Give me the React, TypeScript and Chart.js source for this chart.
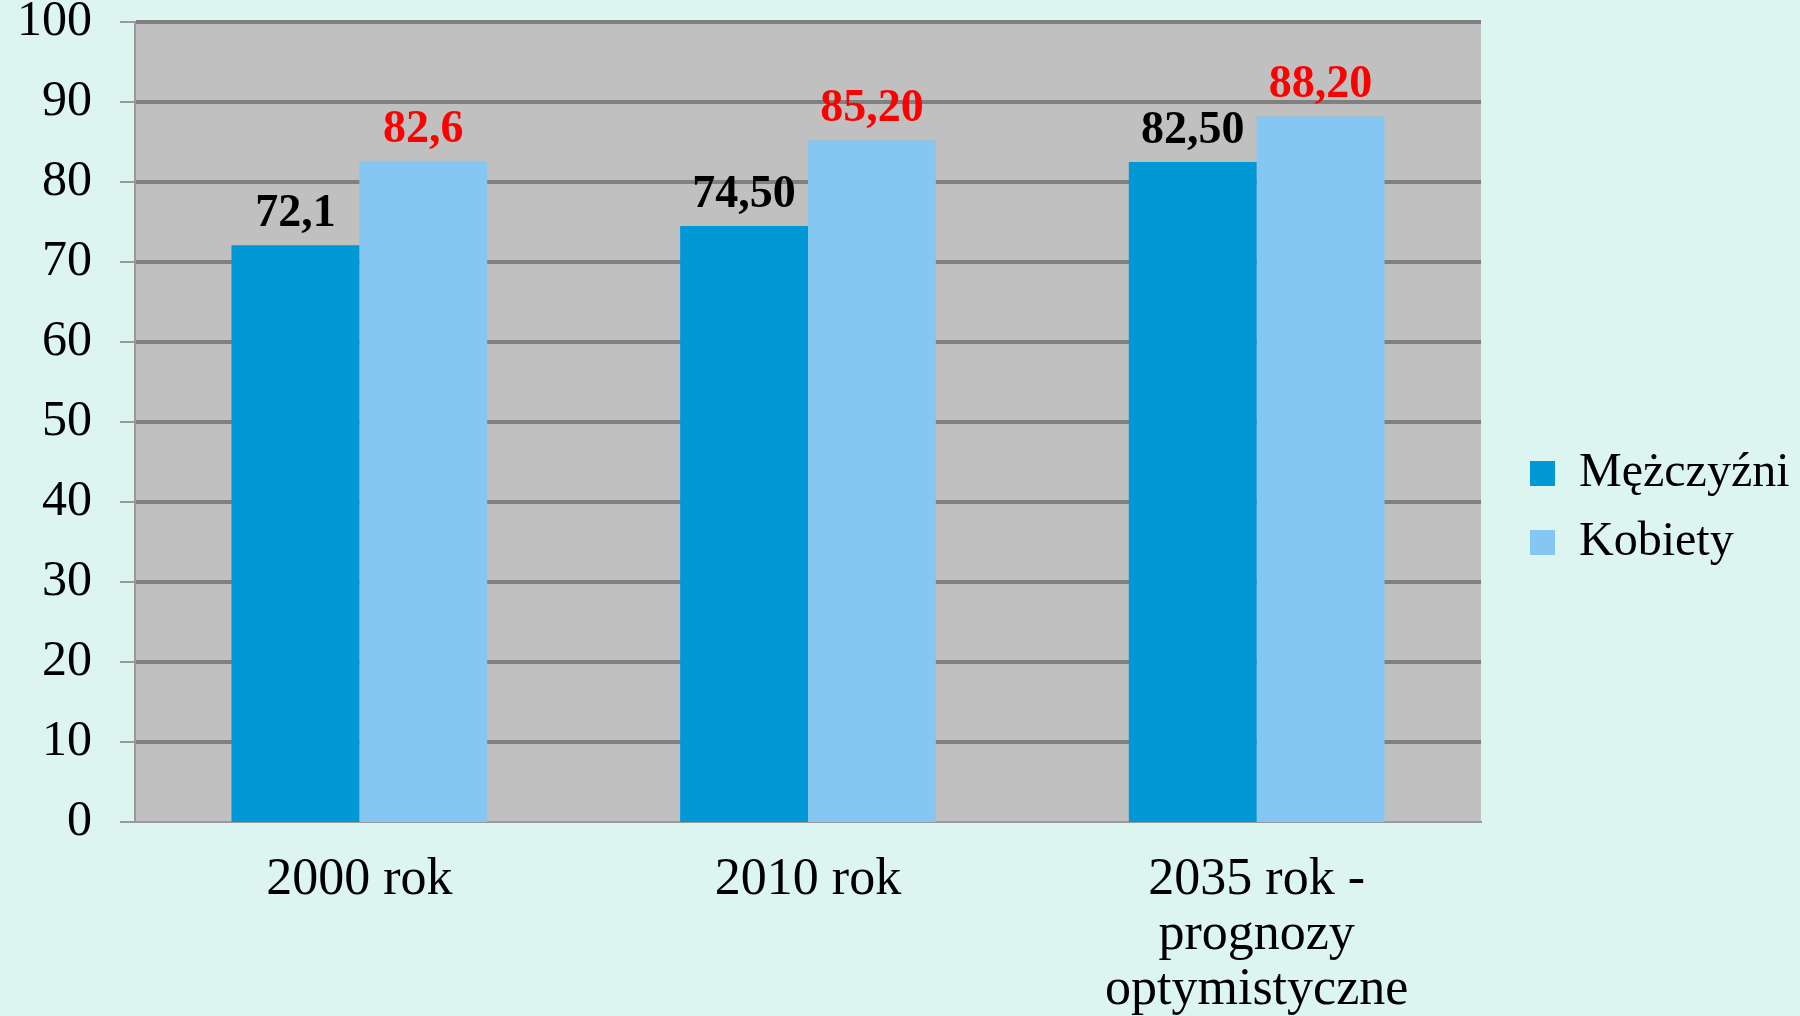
import React, { useEffect, useRef } from "react";
import { Chart, registerables } from "chart.js";

Chart.register(...registerables);

const categories: (string | string[])[] = [
  "2000 rok",
  "2010 rok",
  ["2035 rok -", "prognozy", "optymistyczne"],
];
const menValues = [72.1, 74.5, 82.5];
const womenValues = [82.6, 85.2, 88.2];
const menLabels = ["72,1", "74,50", "82,50"];
const womenLabels = ["82,6", "85,20", "88,20"];
const seriesNames = ["Mężczyźni", "Kobiety"];
const yTicks = { min: 0, max: 100, step: 10 };

const FONT = "'Liberation Serif', 'DejaVu Serif', serif";

export default function App() {
  const ref = useRef<HTMLCanvasElement | null>(null);

  useEffect(() => {
    document.body.style.margin = "0";
    const canvas = ref.current;
    if (!canvas) return;

    const bgPlugin = {
      id: "plotBg",
      afterLayout(chart: any) {
        if (chart.legend) {
          chart.legend.left += 28;
          chart.legend.right += 28;
        }
      },
      beforeDraw(chart: any) {
        const { ctx, chartArea } = chart;
        ctx.save();
        ctx.fillStyle = "#c0c0c0";
        ctx.fillRect(chartArea.left, chartArea.top, chartArea.right - chartArea.left, chartArea.bottom - chartArea.top);
        ctx.restore();
      },
    };

    const labelPlugin = {
      id: "valueLabels",
      afterDatasetsDraw(chart: any) {
        const { ctx } = chart;
        const sets = [
          { labels: menLabels, color: "#000000" },
          { labels: womenLabels, color: "#ff0000" },
        ];
        ctx.save();
        ctx.font = `bold 46px ${FONT}`;
        ctx.textAlign = "center";
        ctx.textBaseline = "alphabetic";
        sets.forEach((s, di) => {
          const meta = chart.getDatasetMeta(di);
          meta.data.forEach((el: any, i: number) => {
            ctx.fillStyle = s.color;
            ctx.fillText(s.labels[i], el.x, el.y - 19);
          });
        });
        ctx.restore();
      },
    };

    const chart = new Chart(canvas, {
      type: "bar",
      data: {
        labels: categories,
        datasets: [
          {
            label: seriesNames[0],
            data: menValues,
            backgroundColor: "#0099d6",
            borderWidth: 0,
          },
          {
            label: seriesNames[1],
            data: womenValues,
            backgroundColor: "#85c6f2",
            borderWidth: 0,
          },
        ],
      },
      options: {
        animation: false,
        responsive: true,
        maintainAspectRatio: false,
        layout: { padding: 0 },
        datasets: {
          bar: { categoryPercentage: 0.57, barPercentage: 1.0 },
        },
        plugins: {
          tooltip: { enabled: false },
          legend: {
            position: "right",
            align: "center",
            labels: {
              color: "#000000",
              font: { family: FONT, size: 48 },
              boxWidth: 25,
              boxHeight: 25,
              padding: 21,
            },
          },
        },
        scales: {
          x: {
            grid: { display: false, drawTicks: false },
            border: { display: true, color: "#999999", width: 2 },
            ticks: {
              color: "#000000",
              font: { family: FONT, size: 52, lineHeight: 1.06 },
              padding: 31,
              maxRotation: 0,
              autoSkip: false,
            },
            afterFit: (scale: any) => {
              scale.height = 194;
              scale.paddingRight = 319;
              scale.paddingLeft = 0;
            },
          },
          y: {
            min: yTicks.min,
            max: yTicks.max,
            grid: {
              color: "#808080",
              lineWidth: (c: any) => (c.tick && c.tick.value === 0 ? 0 : 4),
              tickColor: "#999999",
              tickWidth: 2,
              tickLength: 15,
            },
            border: { display: true, color: "#999999", width: 2 },
            ticks: {
              stepSize: yTicks.step,
              color: "#000000",
              font: { family: FONT, size: 50, lineHeight: 1 },
              padding: 28,
            },
            afterFit: (scale: any) => {
              scale.width = 135;
              scale.paddingTop = 22;
              scale.paddingBottom = 0;
            },
          },
        },
      },
      plugins: [bgPlugin, labelPlugin],
    });

    return () => chart.destroy();
  }, []);

  return (
    <div style={{ width: 1800, height: 1016, background: "#ddf5f1", position: "relative" }}>
      <canvas ref={ref} />
    </div>
  );
}
